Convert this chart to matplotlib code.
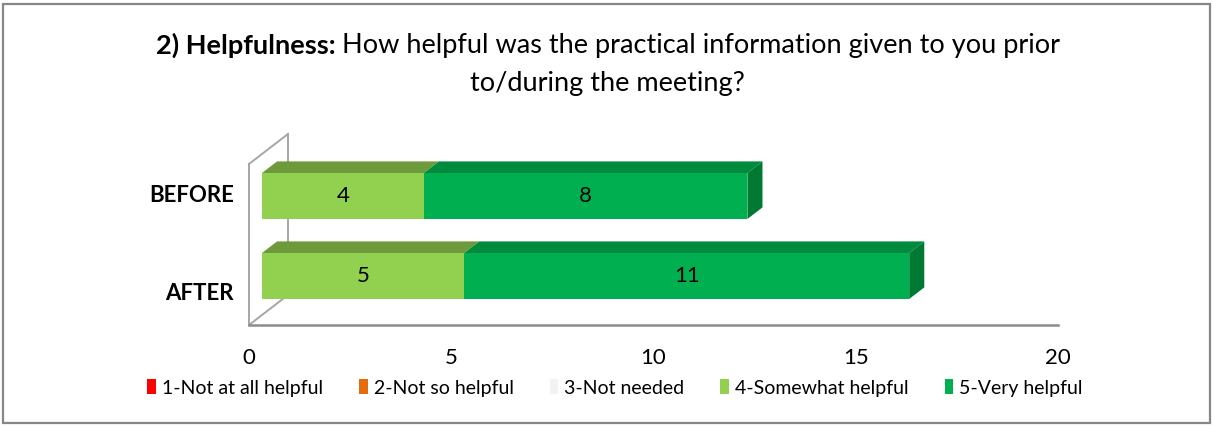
import matplotlib
matplotlib.use("Agg")
import matplotlib.pyplot as plt
from matplotlib.patches import Polygon, Rectangle

# ---------------- data ----------------
categories = ["BEFORE", "AFTER"]
series_names = ["1-Not at all helpful", "2-Not so helpful", "3-Not needed",
                "4-Somewhat helpful", "5-Very helpful"]
s1 = [0, 0]
s2 = [0, 0]
s3 = [0, 0]
s4 = [4, 5]
s5 = [8, 11]
xticks = [0, 5, 10, 15, 20]
title_bold = "2) Helpfulness:"
title_rest = " How helpful was the practical information given to you prior"
title_line2 = "to/during the meeting?"

# ---------------- style ----------------
FONT = ["Lato", "DejaVu Sans"]
plt.rcParams["font.family"] = FONT
front_cols = ["#FF0000", "#E46C0A", "#F2F2F2", "#92D050", "#00B050"]
top_cols = ["#C00000", "#B0530A", "#C8C8C8", "#6E9A3C", "#008A3E"]
side_cols = ["#A00000", "#984807", "#B0B0B0", "#5E8434", "#007A33"]

W, H = 1213, 426
fig = plt.figure(figsize=(W / 100, H / 100), dpi=100)

def fx(px):
    return px / W

def fy(py):
    return 1 - py / H

# outer border
fig.patches.append(Rectangle((fx(3), fy(423)), fx(1207), 419 / H, transform=fig.transFigure,
                             fill=False, edgecolor="#878787", linewidth=1.6))

# axes = front plane of the 3D box
ax_l, ax_r, ax_b, ax_t = 249, 1058, 325, 135
ax = fig.add_axes([fx(ax_l), fy(ax_b), (ax_r - ax_l) / W, (ax_b - ax_t) / H])
ppu_y = 80.0
ymin = -39 / ppu_y
ax.set_xlim(0, 20)
ax.set_ylim(ymin, ymin + (ax_b - ax_t) / ppu_y)
ax.axis("off")

ppu_x = (ax_r - ax_l) / 20.0
Dx, Dy = 39 / ppu_x, 30 / ppu_y       # full depth of the box in data units
f0, f1 = 0.333, 0.72                  # bar front / back depth fraction
bh = 46 / ppu_y
ypos = [1, 0]
wall_top = ymin + (ax_b - 164) / ppu_y

# walls and floor
gcol = "#A6A6A6"
ax.plot([0, 0], [ymin, wall_top], color=gcol, lw=1.4, clip_on=False)
ax.plot([Dx, Dx], [ymin + Dy, wall_top + Dy], color=gcol, lw=1.4, clip_on=False, zorder=0)
ax.plot([0, Dx], [wall_top, wall_top + Dy], color=gcol, lw=1.4, clip_on=False)
ax.plot([0, Dx], [ymin, ymin + Dy], color=gcol, lw=1.4, clip_on=False)
ax.plot([0, 20], [ymin, ymin], color="#8C8C8C", lw=1.8, clip_on=False)

ox, oy = f0 * Dx, f0 * Dy
bx, by = (f1 - f0) * Dx, (f1 - f0) * Dy

all_series = [s1, s2, s3, s4, s5]
handles = []
lefts = [0.0] * len(categories)
for k, vals in enumerate(all_series):
    yc = [y + oy for y in ypos]
    bars = ax.barh(yc, vals, left=[l + ox for l in lefts], height=bh,
                   color=front_cols[k], edgecolor="none", zorder=3, label=series_names[k])
    handles.append(bars)
    for i, v in enumerate(vals):
        if v == 0:
            continue
        l = lefts[i] + ox
        r = l + v
        top = yc[i] + bh / 2
        ax.add_patch(Polygon([(l, top), (r, top), (r + bx, top + by), (l + bx, top + by)],
                             closed=True, facecolor=top_cols[k], edgecolor="none", zorder=2,
                             clip_on=False))
        ax.text((l + r) / 2, yc[i], str(v), ha="center", va="center", fontsize=16,
                color="black", zorder=5)
    lefts = [a + b for a, b in zip(lefts, vals)]

# right side faces
for i in range(len(categories)):
    r = lefts[i] + ox
    yc = ypos[i] + oy
    top, bot = yc + bh / 2, yc - bh / 2
    ax.add_patch(Polygon([(r, bot), (r, top), (r + bx, top + by), (r + bx, bot + by)],
                         closed=True, facecolor=side_cols[4], edgecolor="none", zorder=2,
                         clip_on=False))

# x tick labels
for t in xticks:
    ax.text(t, ymin - 33 / ppu_y, str(t), ha="center", va="center", fontsize=16)

# category labels
cat_py = {"BEFORE": 196, "AFTER": 293}
for c in categories:
    fig.text(fx(234), fy(cat_py[c]), c, ha="right", va="center", fontsize=16,
             fontweight="bold")

# title
fig.canvas.draw()
r = fig.canvas.get_renderer()
tb = fig.text(0, fy(45), title_bold, fontsize=19.5, fontweight="bold", va="center")
tr = fig.text(0, fy(45), title_rest, fontsize=19.5, va="center")
wb = tb.get_window_extent(r).width
wr = tr.get_window_extent(r).width
start = 608 - (wb + wr) / 2
tb.set_x(fx(start))
tr.set_x(fx(start + wb))
fig.text(fx(607), fy(84), title_line2, fontsize=19.5, ha="center", va="center")

# legend
leg = fig.legend(handles=handles, labels=series_names, loc="center",
                 bbox_to_anchor=(fx(615), fy(388)), ncol=5, frameon=False,
                 fontsize=14, handlelength=0.45, handleheight=0.8, handletextpad=0.3,
                 columnspacing=1.85)

fig.savefig("out.png", dpi=100)
